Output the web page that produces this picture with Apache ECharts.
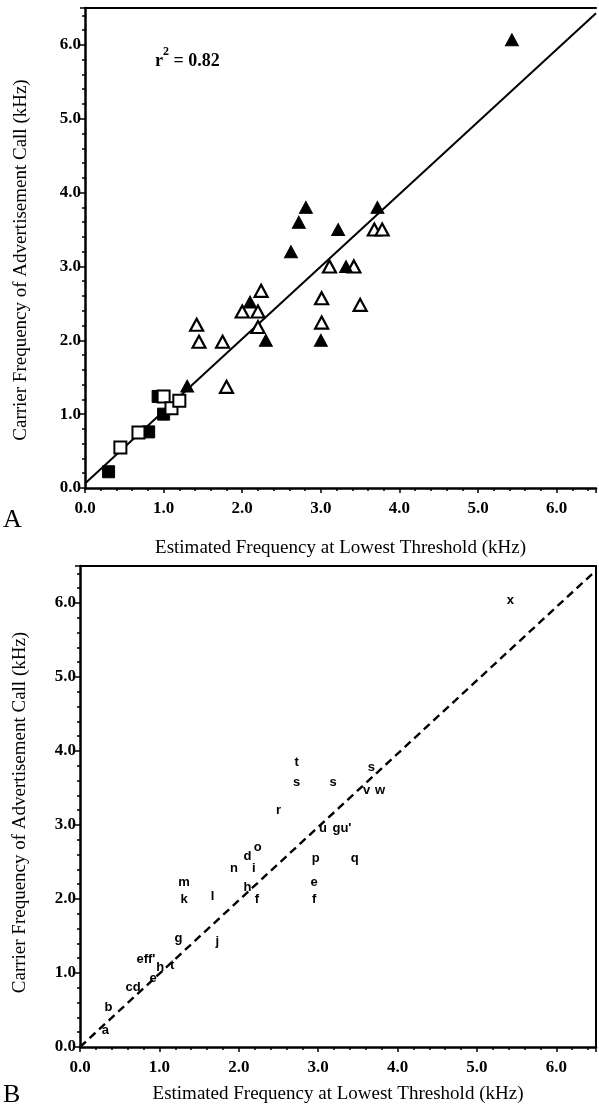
<!DOCTYPE html>
<html>
<head>
<meta charset="utf-8">
<script src="https://cdn.jsdelivr.net/npm/echarts@6/dist/echarts.min.js"></script>
<style>
html,body{margin:0;padding:0;background:#fff;}
#chart{width:599px;height:1110px;}
</style>
</head>
<body>
<div id="chart"></div>
<script>
// ---------- Data ----------
// Panel A: [estimated frequency at lowest threshold, carrier frequency] (kHz)
var filledTriangles = [[5.43,6.07],[2.81,3.8],[2.72,3.6],[3.22,3.5],[2.62,3.2],[3.72,3.8],[3.32,3.0],[3.0,2.0],[2.1,2.52],[2.3,2.0],[1.3,1.38]];
var openTriangles = [[3.68,3.5],[3.78,3.5],[3.11,3.0],[3.42,3.0],[3.01,2.57],[3.5,2.48],[3.01,2.24],[2.24,2.67],[2.0,2.39],[2.2,2.39],[2.2,2.18],[1.42,2.21],[1.45,1.98],[1.75,1.98],[1.8,1.37]];
var filledSquares = [[0.3,0.22],[0.81,0.76],[0.93,1.24],[1.0,1.0]];
var openSquares = [[0.45,0.55],[0.68,0.75],[1.0,1.24],[1.1,1.08],[1.2,1.18]];
var fitLineX = [0, 6.5];
var fitLineY = [0.06, 6.43];
var rSquared = '0.82';

// Panel B: species letters
var letterNames = ['x','t','s','s','s','v','w','r','u',"gu'",'p','q','e','f','o','d','n','i','m','k','l','h','f','j','g',"eff'",'h','t','e','cd','b','a'];
var letterX = [5.42,2.73,2.73,3.19,3.67,3.61,3.78,2.5,3.06,3.3,2.97,3.46,2.95,2.95,2.24,2.11,1.94,2.19,1.31,1.31,1.67,2.11,2.23,1.73,1.24,0.83,1.01,1.16,0.92,0.67,0.36,0.32];
var letterY = [6.04,3.85,3.58,3.57,3.78,3.47,3.47,3.2,2.96,2.96,2.55,2.55,2.22,1.99,2.7,2.57,2.41,2.41,2.23,2.0,2.03,2.15,1.99,1.42,1.47,1.18,1.07,1.1,0.93,0.8,0.54,0.23];
var equalLineX = [0, 6.5];
var equalLineY = [0, 6.44];

var axisTicks = ['0.0','1.0','2.0','3.0','4.0','5.0','6.0'];
var xTitle = 'Estimated Frequency at Lowest Threshold (kHz)';
var yTitle = 'Carrier Frequency of Advertisement Call (kHz)';

// ---------- Chart ----------
var serif = 'Liberation Serif';
var chart = echarts.init(document.getElementById('chart'), null, {renderer:'canvas'});

function tickFmt(v){ var i=Math.round(v); return (Math.abs(v-i)<1e-6 && axisTicks[i]!==undefined)?axisTicks[i]:''; }

function mainX(gi, gap){
  return {
    gridIndex: gi, type:'value', min:0, max:6.5, interval:1, position:'bottom',
    splitLine:{show:false},
    axisLine:{show:true, onZero:false, lineStyle:{color:'#000', width:2.5}},
    axisTick:{show:true, inside:false, length:5, lineStyle:{color:'#000', width:1.5}},
    minorTick:{show:true, splitNumber:5, length:3, lineStyle:{color:'#000', width:1.5}},
    axisLabel:{margin:12, color:'#000', fontFamily:serif, fontWeight:'bold', fontSize:17, formatter:tickFmt},
    name: xTitle, nameLocation:'middle', nameGap:gap,
    nameTextStyle:{color:'#000', fontFamily:serif, fontSize:19}
  };
}
function mainY(gi, gap, pad){
  return {
    gridIndex: gi, type:'value', min:0, max:6.5, interval:1, position:'left',
    splitLine:{show:false},
    axisLine:{show:true, onZero:false, lineStyle:{color:'#000', width:2.5}},
    axisTick:{show:true, inside:false, length:5, lineStyle:{color:'#000', width:1.5}},
    minorTick:{show:true, splitNumber:5, length:3, lineStyle:{color:'#000', width:1.5}},
    axisLabel:{margin:4, color:'#000', fontFamily:serif, fontWeight:'bold', fontSize:17, formatter:tickFmt},
    name: yTitle, nameLocation:'middle', nameGap:gap,
    nameTextStyle:{color:'#000', fontFamily:serif, fontSize:19, padding:pad}
  };
}
function borderX(gi){
  return {gridIndex:gi, type:'value', min:0, max:6.5, position:'top',
    splitLine:{show:false}, axisTick:{show:false}, axisLabel:{show:false},
    axisLine:{show:true, onZero:false, lineStyle:{color:'#000', width:2}}};
}
function borderY(gi, show){
  return {gridIndex:gi, type:'value', min:0, max:6.5, position:'right',
    splitLine:{show:false}, axisTick:{show:false}, axisLabel:{show:false},
    axisLine:{show:show, onZero:false, lineStyle:{color:'#000', width:2}}};
}

function pairs(xs, ys){ return xs.map(function(x,i){ return [x, ys[i]]; }); }
var letterData = letterNames.map(function(n,i){ return {name:n, value:[letterX[i], letterY[i]]}; });

var option = {
  backgroundColor:'#fff',
  animation:false,
  grid:[
    {left:85, top:8, width:516, height:480},
    {left:80, top:566, width:516, height:481}
  ],
  xAxis:[mainX(0, 51), borderX(0), mainX(1, 38), borderX(1)],
  yAxis:[mainY(0, 54, [0,24,0,0]), borderY(0, false), mainY(1, 50, [0,12,0,0]), borderY(1, true)],
  series:[
    {type:'line', xAxisIndex:0, yAxisIndex:0, data:pairs(fitLineX, fitLineY), symbol:'none',
      lineStyle:{color:'#000', width:2}, z:1},
    {type:'scatter', xAxisIndex:0, yAxisIndex:0, data:filledSquares, symbol:'rect', symbolSize:12,
      itemStyle:{color:'#000', borderColor:'#000', borderWidth:1, opacity:1}, z:3},
    {type:'scatter', xAxisIndex:0, yAxisIndex:0, data:openSquares, symbol:'rect', symbolSize:12,
      itemStyle:{color:'#fff', borderColor:'#000', borderWidth:2, opacity:1}, z:4},
    {type:'scatter', xAxisIndex:0, yAxisIndex:0, data:openTriangles, symbol:'triangle', symbolSize:[13,12],
      itemStyle:{color:'#fff', borderColor:'#000', borderWidth:2.2, opacity:1}, z:3},
    {type:'scatter', xAxisIndex:0, yAxisIndex:0, data:filledTriangles, symbol:'triangle', symbolSize:[13,12],
      itemStyle:{color:'#000', borderColor:'#000', borderWidth:1, opacity:1}, z:4},
    {type:'line', xAxisIndex:2, yAxisIndex:2, data:pairs(equalLineX, equalLineY), symbol:'none',
      lineStyle:{color:'#000', width:2.4, type:[8,5]}, z:1},
    {type:'scatter', xAxisIndex:2, yAxisIndex:2, data:letterData, symbol:'circle', symbolSize:1,
      itemStyle:{color:'rgba(0,0,0,0)', opacity:1},
      label:{show:true, position:'inside', formatter:'{b}', color:'#000', opacity:1,
        fontFamily:'Liberation Sans', fontWeight:'bold', fontSize:13}, z:3}
  ],
  graphic:[
    {type:'text', left:155, top:46, style:{
      text:'{a|r}{b|2}{a| = ' + rSquared + '}',
      rich:{a:{fontFamily:serif, fontWeight:'bold', fontSize:18, fill:'#000', lineHeight:24, verticalAlign:'bottom'},
            b:{fontFamily:serif, fontWeight:'bold', fontSize:12, fill:'#000', lineHeight:24, verticalAlign:'top'}}}},
    {type:'text', left:3, top:507, style:{text:'A', fontFamily:serif, fontSize:26, fill:'#000'}},
    {type:'text', left:3, top:1082, style:{text:'B', fontFamily:serif, fontSize:26, fill:'#000'}}
  ]
};
chart.setOption(option);
</script>
</body>
</html>
